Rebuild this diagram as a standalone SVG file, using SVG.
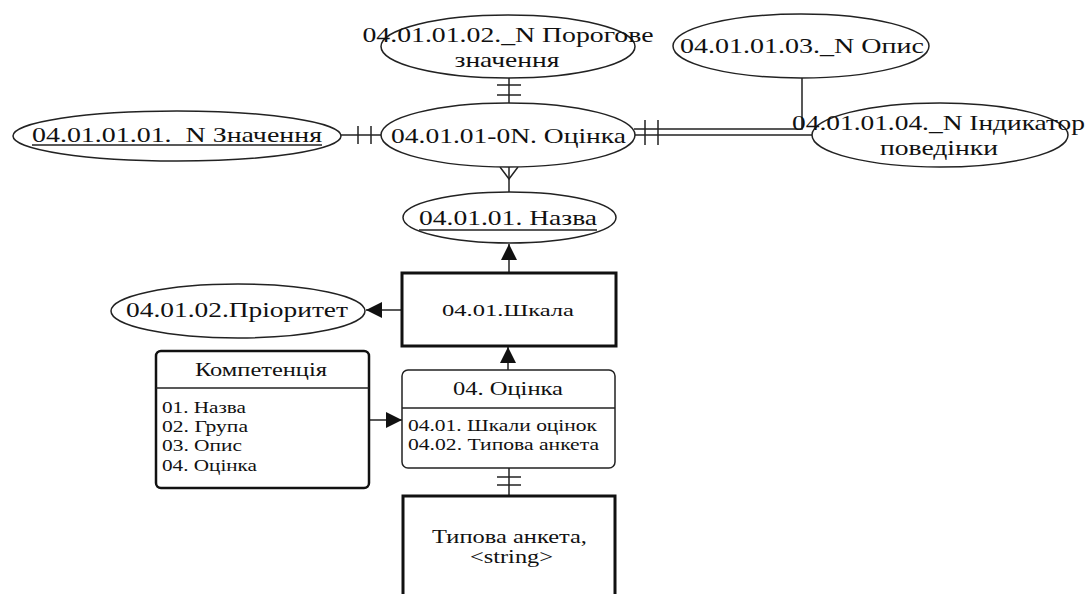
<svg xmlns="http://www.w3.org/2000/svg" width="1092" height="594" viewBox="0 0 1092 594">
<defs>
<style>
.bg{fill:#fff}
.el{fill:#fff;stroke:#222;stroke-width:1.5}
.thick{fill:#fff;stroke:#111;stroke-width:3}
.card{fill:#fff;stroke:#111;stroke-width:2.5}
.card2{fill:#fff;stroke:#222;stroke-width:1.5}
.sep{stroke:#222;stroke-width:1.5}
.ln{fill:none;stroke:#222;stroke-width:1.5}
text{font-family:"Liberation Serif","Times New Roman",serif;fill:#111;white-space:pre}
.c{text-anchor:middle}
.f20{font-size:21px}
.f18{font-size:18px}
.f16{font-size:17px}
</style>
<marker id="arr" markerUnits="userSpaceOnUse" markerWidth="18" markerHeight="16" refX="16" refY="8" orient="auto">
<path d="M0,0 L16,8 L0,16 Z" fill="#111"/>
</marker>
</defs>
<rect class="bg" x="0" y="0" width="1092" height="594"/>

<g id="connectors">
<line class="ln" x1="509" y1="78" x2="509" y2="103"/>
<line class="ln" x1="497" y1="85" x2="521" y2="85"/>
<line class="ln" x1="497" y1="95" x2="521" y2="95"/>

<line class="ln" x1="341" y1="135" x2="381" y2="135"/>
<line class="ln" x1="358" y1="126" x2="358" y2="144"/>
<line class="ln" x1="371" y1="126" x2="371" y2="144"/>

<polyline class="ln" points="634,129 802,129 802,78"/>
<line class="ln" x1="635" y1="135" x2="812" y2="135"/>
<line class="ln" x1="645" y1="120" x2="645" y2="145"/>
<line class="ln" x1="658" y1="120" x2="658" y2="145"/>

<line class="ln" x1="509" y1="167" x2="509" y2="192"/>
<polyline class="ln" points="500,167 509,179 518,167"/>

<line class="ln" x1="509" y1="273" x2="509" y2="244" marker-end="url(#arr)"/>
<line class="ln" x1="402" y1="310" x2="366" y2="310" marker-end="url(#arr)"/>
<line class="ln" x1="508" y1="370" x2="508" y2="347" marker-end="url(#arr)"/>
<line class="ln" x1="369" y1="420" x2="402" y2="420" marker-end="url(#arr)"/>

<line class="ln" x1="509" y1="496" x2="509" y2="468"/>
<line class="ln" x1="497" y1="477" x2="521" y2="477"/>
<line class="ln" x1="497" y1="485" x2="521" y2="485"/>
</g>

<g id="porohove">
<ellipse class="el" cx="508" cy="46.5" rx="127" ry="31.5"/>
<text class="c f20" x="508" y="42" textLength="291" lengthAdjust="spacingAndGlyphs">04.01.01.02._N Порогове</text>
<text class="c f20" x="507" y="67" textLength="105" lengthAdjust="spacingAndGlyphs">значення</text>
</g>

<g id="opys">
<ellipse class="el" cx="801" cy="46" rx="128" ry="32"/>
<text class="c f20" x="802" y="53" textLength="244" lengthAdjust="spacingAndGlyphs">04.01.01.03._N Опис</text>
</g>

<g id="znachennia">
<ellipse class="el" cx="177" cy="136" rx="164" ry="25"/>
<text class="c f20" x="177" y="142" textLength="290" lengthAdjust="spacingAndGlyphs">04.01.01.01.  N Значення</text>
<line class="sep" x1="32" y1="145" x2="322" y2="145" stroke-width="1.2"/>
</g>

<g id="otsinka-0n">
<ellipse class="el" cx="508" cy="135" rx="127" ry="32"/>
<text class="c" x="508.5" y="143" style="font-size:22px" textLength="235" lengthAdjust="spacingAndGlyphs">04.01.01-0N. Оцінка</text>
</g>

<g id="indykator">
<ellipse class="el" cx="940" cy="135" rx="128" ry="32"/>
<text class="c f20" x="938.5" y="130" textLength="293" lengthAdjust="spacingAndGlyphs">04.01.01.04._N Індикатор</text>
<text class="c f20" x="939" y="155" textLength="118" lengthAdjust="spacingAndGlyphs">поведінки</text>
</g>

<g id="nazva">
<ellipse class="el" cx="509.5" cy="217.5" rx="106.5" ry="25.5"/>
<text class="c f20" x="508" y="225" textLength="178" lengthAdjust="spacingAndGlyphs">04.01.01. Назва</text>
<line class="sep" x1="419" y1="230" x2="597" y2="230" stroke-width="1.2"/>
</g>

<g id="priorytet">
<ellipse class="el" cx="238" cy="311" rx="127" ry="27"/>
<text class="c" x="237" y="317" style="font-size:21px" textLength="222" lengthAdjust="spacingAndGlyphs">04.01.02.Пріоритет</text>
</g>

<g id="shkala">
<rect class="thick" x="402" y="273" width="214" height="73"/>
<text class="c" x="508" y="316" style="font-size:17px" textLength="132" lengthAdjust="spacingAndGlyphs">04.01.Шкала</text>
</g>

<g id="kompetentsiia">
<rect class="card" x="156" y="351" width="213" height="137" rx="5"/>
<line class="sep" x1="156" y1="388" x2="369" y2="388" stroke-width="2"/>
<text class="c" x="261" y="376" style="font-size:18px" textLength="132" lengthAdjust="spacingAndGlyphs">Компетенція</text>
<text class="f16" x="162" y="413" textLength="84" lengthAdjust="spacingAndGlyphs">01. Назва</text>
<text class="f16" x="162" y="432" textLength="86" lengthAdjust="spacingAndGlyphs">02. Група</text>
<text class="f16" x="162" y="451" textLength="80" lengthAdjust="spacingAndGlyphs">03. Опис</text>
<text class="f16" x="162" y="471" textLength="95" lengthAdjust="spacingAndGlyphs">04. Оцінка</text>
</g>

<g id="otsinka">
<rect class="card2" x="402" y="370" width="213" height="98" rx="6"/>
<line class="sep" x1="402" y1="408" x2="615" y2="408"/>
<text class="c f18" x="508" y="395" textLength="110" lengthAdjust="spacingAndGlyphs">04. Оцінка</text>
<text class="f16" x="408" y="431" textLength="189" lengthAdjust="spacingAndGlyphs">04.01. Шкали оцінок</text>
<text class="f16" x="408" y="450" textLength="191" lengthAdjust="spacingAndGlyphs">04.02. Типова анкета</text>
</g>

<g id="typova-anketa">
<rect class="thick" x="403" y="496" width="212" height="112"/>
<text class="c" x="509.5" y="543" style="font-size:19px" textLength="155" lengthAdjust="spacingAndGlyphs">Типова анкета,</text>
<text class="c" x="511.5" y="563" style="font-size:19px" textLength="83" lengthAdjust="spacingAndGlyphs">&lt;string&gt;</text>
</g>
</svg>
